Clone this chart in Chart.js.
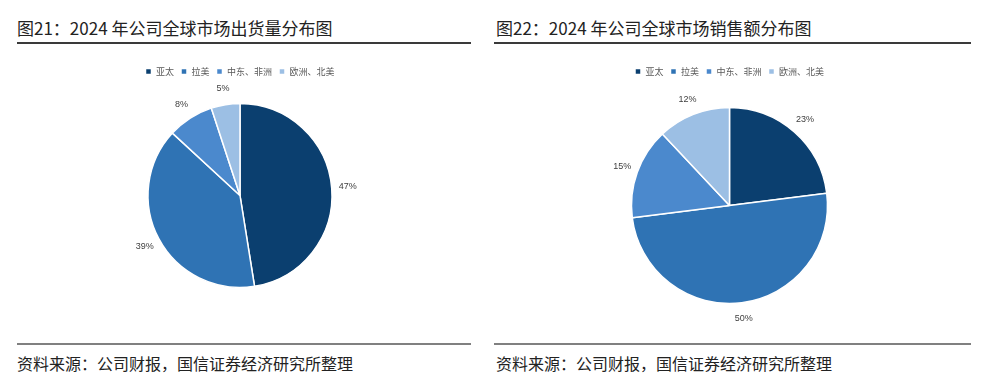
<!DOCTYPE html>
<html>
<head>
<meta charset="utf-8">
<script src="https://cdn.jsdelivr.net/npm/chart.js@4/dist/chart.umd.min.js"></script>
<style>
    body { margin: 0; background: #fff; width: 999px; height: 382px; position: relative; overflow: hidden; font-family: "Noto Sans CJK SC", sans-serif; }
    .title { position: absolute; top: 15px; font-size: 17px; color: #222; white-space: nowrap; }
    .rule { position: absolute; height: 2px; background: #3a3a3a; }
    .rule.bottom { height: 1.5px; background: #808080; }
    .source { position: absolute; top: 351px; font-size: 16px; color: #222; white-space: nowrap; }
    canvas { position: absolute; }
</style>
</head>
<body>
<div class="title" style="left:17px">图21：2024 年公司全球市场出货量分布图</div>
<div class="rule" style="left:17px;width:454px;top:42px"></div>
<canvas id="shipChart" width="454" height="285" style="left:17px;top:52px"></canvas>
<div class="rule bottom" style="left:17px;width:454px;top:343px"></div>
<div class="source" style="left:17px">资料来源：公司财报，国信证券经济研究所整理</div>

<div class="title" style="left:496px">图22：2024 年公司全球市场销售额分布图</div>
<div class="rule" style="left:494px;width:477px;top:42px"></div>
<canvas id="salesChart" width="477" height="285" style="left:494px;top:52px"></canvas>
<div class="rule bottom" style="left:494px;width:477px;top:343px"></div>
<div class="source" style="left:496px">资料来源：公司财报，国信证券经济研究所整理</div>

<script>
// regions and shares (%)
const regions = ["亚太", "拉美", "中东、非洲", "欧洲、北美"];
const shipmentShare = [47, 39, 8, 5];
const salesShare = [23, 50, 15, 12];
const sliceColors = ["#0b3f6f", "#2f73b4", "#4b89cd", "#9cbfe4"];

// percentage labels just outside each slice
const outsideLabels = {
    id: "outsideLabels",
    afterDatasetsDraw(chart) {
        const ctx = chart.ctx;
        const values = chart.data.datasets[0].data;
        ctx.save();
        ctx.font = "9px 'Liberation Sans', Arial, sans-serif";
        ctx.fillStyle = "#404040";
        ctx.textAlign = "center";
        ctx.textBaseline = "middle";
        chart.getDatasetMeta(0).data.forEach((arc, i) => {
            const p = arc.getProps(["x", "y", "startAngle", "endAngle", "outerRadius"], true);
            const mid = (p.startAngle + p.endAngle) / 2;
            const d = p.outerRadius + 16;
            ctx.fillText(values[i] + "%", p.x + Math.cos(mid) * d, p.y + Math.sin(mid) * d);
        });
        ctx.restore();
    },
};

function makePie(id, values, radius, padding) {
    new Chart(document.getElementById(id), {
        type: "pie",
        data: {
            labels: regions,
            datasets: [
                {
                    data: values,
                    backgroundColor: sliceColors,
                    borderColor: "#fff",
                    borderWidth: 1.5,
                    radius: radius,
                },
            ],
        },
        options: {
            responsive: false,
            animation: false,
            layout: { padding: padding },
            plugins: {
                legend: {
                    position: "top",
                    labels: {
                        boxWidth: 6,
                        boxHeight: 6,
                        padding: 7,
                        color: "#595959",
                        font: { size: 9, family: "'Noto Sans CJK SC', sans-serif" },
                    },
                },
                tooltip: { enabled: false },
            },
        },
        plugins: [outsideLabels],
    });
}

makePie("shipChart", shipmentShare, 92, { top: 8, left: 0, right: 8, bottom: 32 });
makePie("salesChart", salesShare, 98, { top: 8, left: 0, right: 6, bottom: 12 });
</script>
</body>
</html>
